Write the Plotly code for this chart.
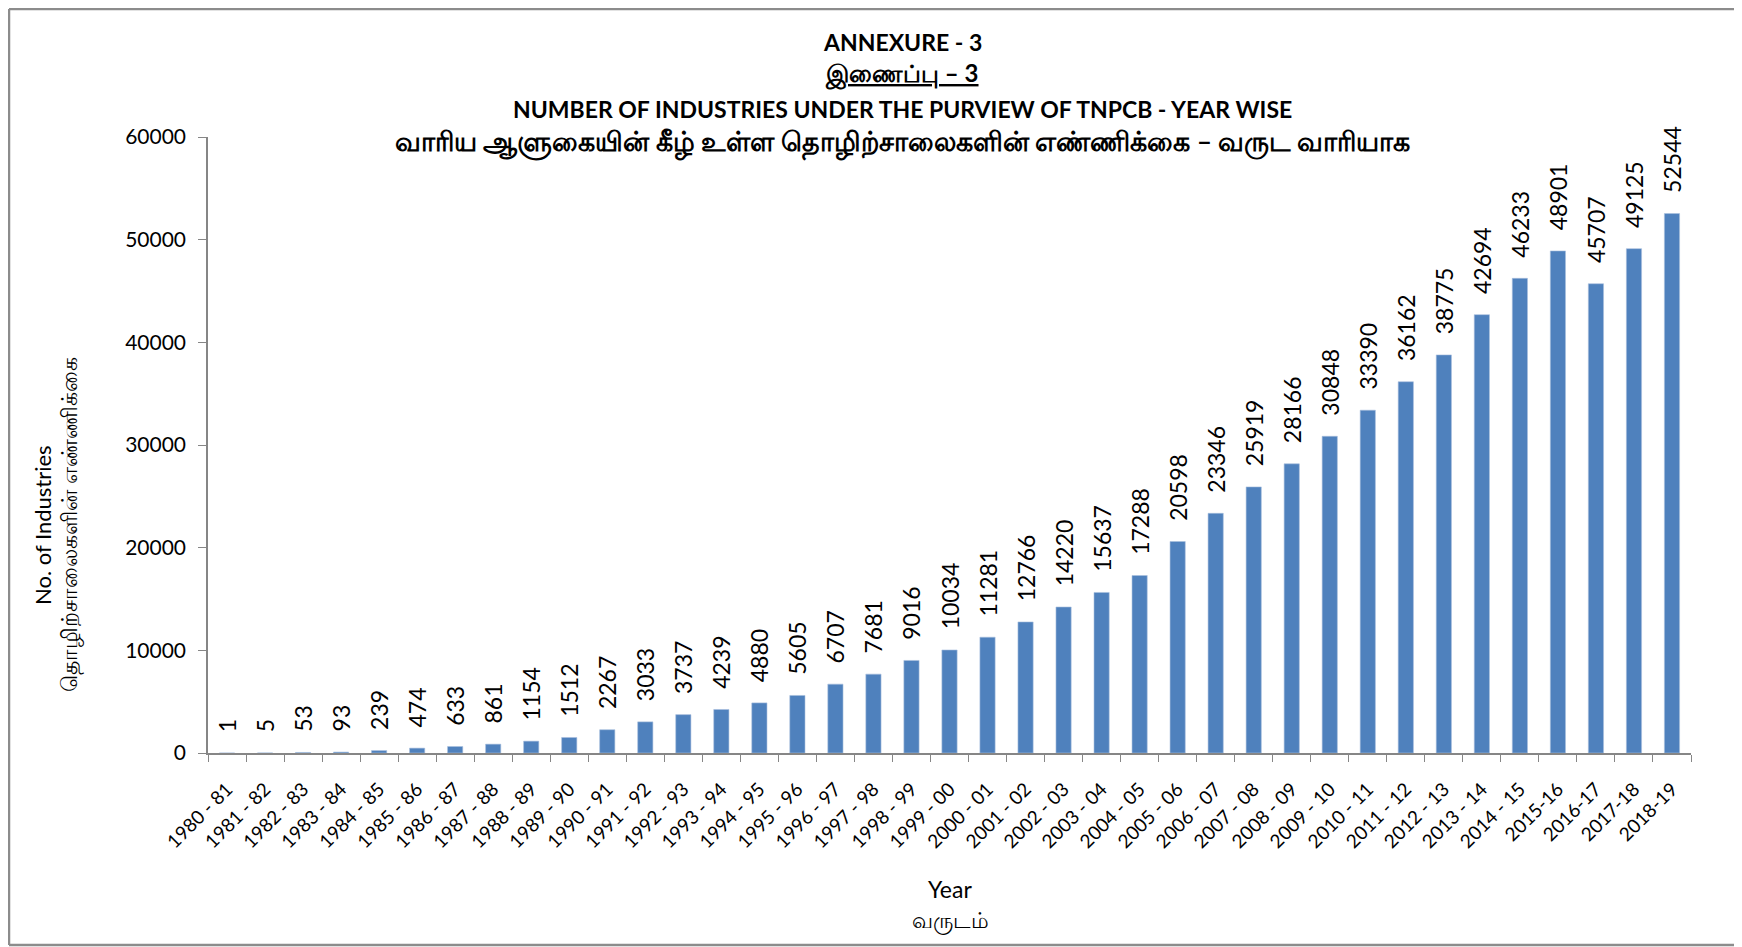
import plotly.graph_objects as go

years = ["1980 - 81", "1981 - 82", "1982 - 83", "1983 - 84", "1984 - 85", "1985 - 86",
         "1986 - 87", "1987 - 88", "1988 - 89", "1989 - 90", "1990 - 91", "1991 - 92",
         "1992 - 93", "1993 - 94", "1994 - 95", "1995 - 96", "1996 - 97", "1997 - 98",
         "1998 - 99", "1999 - 00", "2000 - 01", "2001 - 02", "2002 - 03", "2003 - 04",
         "2004 - 05", "2005 - 06", "2006 - 07", "2007 - 08", "2008 - 09", "2009 - 10",
         "2010 - 11", "2011 - 12", "2012 - 13", "2013 - 14", "2014 - 15", "2015-16",
         "2016-17", "2017-18", "2018-19"]
industries = [1, 5, 53, 93, 239, 474, 633, 861, 1154, 1512, 2267, 3033, 3737, 4239,
              4880, 5605, 6707, 7681, 9016, 10034, 11281, 12766, 14220, 15637, 17288,
              20598, 23346, 25919, 28166, 30848, 33390, 36162, 38775, 42694, 46233,
              48901, 45707, 49125, 52544]
y_ticks = [0, 10000, 20000, 30000, 40000, 50000, 60000]

title_lines = ["ANNEXURE - 3", "இணைப்பு – 3",
               "NUMBER OF INDUSTRIES UNDER THE PURVIEW OF TNPCB - YEAR WISE",
               "வாரிய ஆளுகையின் கீழ் உள்ள தொழிற்சாலைகளின் எண்ணிக்கை – வருட வாரியாக"]
x_title = ["Year", "வருடம்"]
y_title = ["No. of Industries", "தொழிற்சாலைகளின் எண்ணிக்கை"]

# page has an 8px body margin: figure pixel = screen pixel - 8
OFF = 8
W, H = 1742 - OFF, 947 - OFF
L, R, T, B = 208 - OFF, 1691 - OFF, 137 - OFF, 753 - OFF
FONT = "Lato, 'Noto Sans', sans-serif"


def px(x):
    return (x - OFF - L) / (R - L)


def py(y):
    return (B - (y - OFF)) / (B - T)


GAP = "\u00a0\u00a0\u00a0"  # small space between bar top and its value label

fig = go.Figure(go.Bar(
    x=years, y=industries,
    marker=dict(color="#4F81BD", line=dict(color="#A9C0DE", width=0.6)),
    text=[GAP + str(v) for v in industries], textposition="outside", textangle=-90,
    textfont=dict(family=FONT, size=23, color="#000000"),
    constraintext="none", cliponaxis=False,
))

fig.update_layout(
    width=W, height=H,
    margin=dict(l=L, r=W - R, t=T, b=H - B, pad=0),
    paper_bgcolor="white", plot_bgcolor="white",
    bargap=0.6, showlegend=False,
    font=dict(family=FONT, color="#000000"),
)
fig.update_xaxes(
    type="category", showline=True, linecolor="#868686", linewidth=1.5,
    ticks="outside", tickson="boundaries", ticklen=7, tickcolor="#868686",
    tickangle=-45, tickfont=dict(family=FONT, size=19), showgrid=False,
    ticklabelstandoff=16,
)
fig.update_yaxes(
    range=[0, 60000], tickvals=y_ticks, ticktext=[str(v) for v in y_ticks],
    showline=True, linecolor="#868686",
    linewidth=1.5, ticks="outside", ticklen=8, tickcolor="#868686",
    tickfont=dict(family=FONT, size=21), showgrid=False, zeroline=False,
    ticklabelstandoff=8,
)

ann = []
title_y = [42, 74, 109, 143]
title_size = [23, 24, 23, 26.5]
for i, (t, yy, fs) in enumerate(zip(title_lines, title_y, title_size)):
    txt = "<b>" + t + "</b>"
    if i == 1:
        txt = "<b><u>" + t + "</u></b>"
    ann.append(dict(text=txt, x=px(902), y=py(yy), xref="paper", yref="paper",
                    showarrow=False, xanchor="center", yanchor="middle",
                    font=dict(family=FONT, size=fs, color="#000000", weight=800)))
for t, yy, fs in zip(x_title, [889, 920], [23, 22]):
    ann.append(dict(text=t, x=px(950), y=py(yy), xref="paper", yref="paper",
                    showarrow=False, xanchor="center", yanchor="middle",
                    font=dict(family=FONT, size=fs, color="#000000")))
for t, xx in zip(y_title, [42, 69]):
    ann.append(dict(text=t, x=px(xx), y=py(525), xref="paper", yref="paper",
                    showarrow=False, xanchor="center", yanchor="middle", textangle=-90,
                    font=dict(family=FONT, size=22, color="#000000")))
fig.update_layout(annotations=ann)

border = dict(color="#8C8C8C", width=2.5)
for (x0, y0, x1, y1) in [(9, 9, 9, 945), (9, 9, 1760, 9), (9, 945, 1760, 945)]:
    fig.add_shape(type="line", xref="paper", yref="paper",
                  x0=px(x0), x1=px(x1), y0=py(y0), y1=py(y1),
                  line=border, layer="below")

fig.write_html("out.html")
